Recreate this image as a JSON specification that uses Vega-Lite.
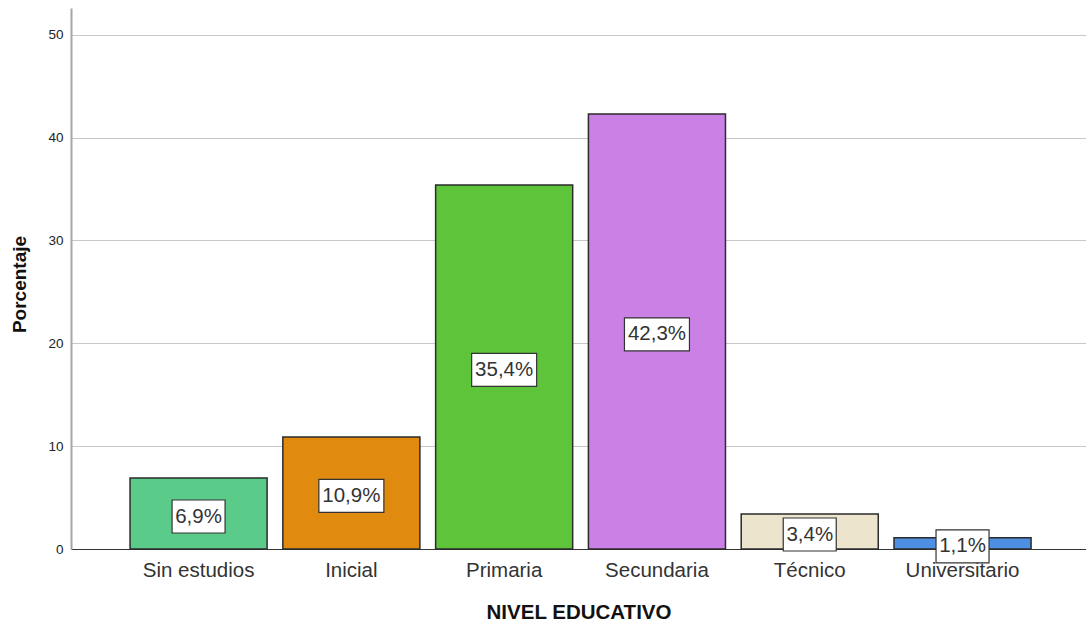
{
  "$schema": "https://vega.github.io/schema/vega-lite/v6.json",
  "width": 1015,
  "height": 541,
  "autosize": {"type": "none"},
  "padding": {"left": 71, "top": 8, "right": 0, "bottom": 79},
  "background": "white",
  "config": {
    "view": {"stroke": null},
    "font": "Liberation Sans"
  },
  "data": {
    "values": [
      {"nivel": "Sin estudios", "pct": 6.9, "label": "6,9%"},
      {"nivel": "Inicial", "pct": 10.9, "label": "10,9%"},
      {"nivel": "Primaria", "pct": 35.4, "label": "35,4%"},
      {"nivel": "Secundaria", "pct": 42.3, "label": "42,3%"},
      {"nivel": "Técnico", "pct": 3.4, "label": "3,4%"},
      {"nivel": "Universitario", "pct": 1.1, "label": "1,1%"}
    ]
  },
  "layer": [
    {
      "mark": {"type": "bar", "stroke": "#2b2b2b", "strokeWidth": 1.5},
      "encoding": {
        "x": {
          "field": "nivel",
          "type": "nominal",
          "sort": null,
          "scale": {"paddingInner": 0.103, "paddingOuter": 0.373, "align": 0.518},
          "axis": {
            "title": "NIVEL EDUCATIVO",
            "titleFontSize": 20.5,
            "titleFontWeight": "bold",
            "titleColor": "#111111",
            "titlePadding": 22,
            "labelFontSize": 20.5,
            "labelColor": "#333333",
            "labelPadding": 11,
            "labelAngle": 0,
            "ticks": false,
            "domainColor": "#333333",
            "domainWidth": 1
          }
        },
        "y": {
          "field": "pct",
          "type": "quantitative",
          "scale": {"domain": [0, 52.6], "nice": false},
          "axis": {
            "values": [0, 10, 20, 30, 40, 50],
            "grid": true,
            "gridColor": "#c8c8c8",
            "gridWidth": 1,
            "domainColor": "#a6a6a6",
            "domainWidth": 2,
            "ticks": false,
            "labelFontSize": 13.5,
            "labelColor": "#222222",
            "labelPadding": 8,
            "title": "Porcentaje",
            "titleFontSize": 19,
            "titleFontWeight": "bold",
            "titleColor": "#111111",
            "titleX": -52,
            "titleY": 276,
            "titleBaseline": "middle"
          }
        },
        "color": {
          "field": "nivel",
          "type": "nominal",
          "scale": {
            "domain": ["Sin estudios", "Inicial", "Primaria", "Secundaria", "Técnico", "Universitario"],
            "range": ["#5bcb8a", "#e08a10", "#5ec43a", "#cb80e6", "#ede4ce", "#4d8fe3"]
          },
          "legend": null
        }
      }
    },
    {
      "mark": {"type": "point", "filled": true, "fill": "white", "stroke": "#333333", "strokeWidth": 1.2, "size": 4, "opacity": 1, "yOffset": 3},
      "encoding": {
        "x": {"field": "nivel", "type": "nominal", "sort": null},
        "y": {
          "field": "pct",
          "type": "quantitative",
          "scale": {"domain": [0, 105.2], "nice": false},
          "axis": null
        },
        "shape": {
          "condition": {"test": "length(datum.label) > 4", "value": "M-32.5,-16.5H32.5V16.5H-32.5Z"},
          "value": "M-26.5,-16.5H26.5V16.5H-26.5Z"
        }
      }
    },
    {
      "mark": {"type": "text", "fontSize": 20.5, "color": "#333333", "font": "Liberation Sans", "yOffset": 3},
      "encoding": {
        "x": {"field": "nivel", "type": "nominal", "sort": null},
        "y": {
          "field": "pct",
          "type": "quantitative",
          "scale": {"domain": [0, 105.2], "nice": false},
          "axis": null
        },
        "text": {"field": "label"}
      }
    }
  ],
  "resolve": {"scale": {"y": "independent"}}
}
